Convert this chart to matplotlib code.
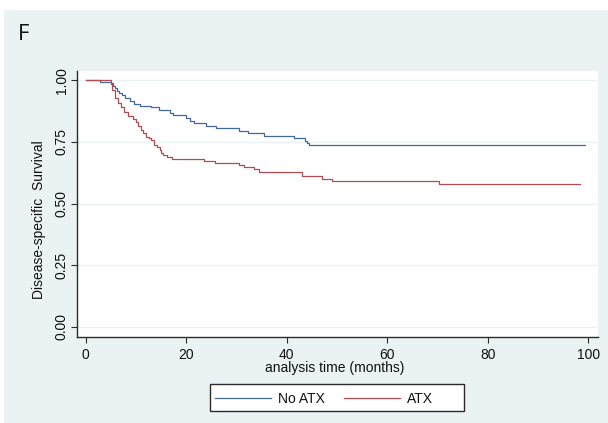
import matplotlib
matplotlib.use("Agg")
import matplotlib.pyplot as plt
from matplotlib.patches import Rectangle

# ---- data ----
no_atx_time = [0, 2.8, 5.0, 5.4, 5.8, 6.2, 6.7, 7.2, 7.8, 8.8, 9.7, 10.8, 13.0, 14.5,
               16.8, 17.4, 19.9, 20.8, 21.5, 24.0, 25.9, 30.6, 32.3, 35.4, 41.5,
               43.6, 44.0, 44.4, 99.3]
no_atx_surv = [1.0, 0.994, 0.988, 0.978, 0.968, 0.958, 0.950, 0.940, 0.927, 0.916,
               0.903, 0.897, 0.890, 0.879, 0.869, 0.858, 0.847, 0.836, 0.825, 0.816,
               0.805, 0.796, 0.785, 0.775, 0.767, 0.755, 0.746, 0.737, 0.737]

atx_time = [0, 5.0, 5.3, 5.8, 6.5, 7.0, 7.6, 8.4, 9.5, 10.0, 10.5, 11.0, 11.4, 12.0,
            12.6, 13.0, 13.6, 14.1, 14.7, 15.0, 15.3, 16.1, 17.1, 23.5, 25.8, 30.6,
            31.6, 33.4, 34.4, 43.1, 47.0, 49.0, 70.3, 98.4]
atx_surv = [1.0, 0.985, 0.960, 0.927, 0.910, 0.893, 0.873, 0.856, 0.845, 0.830,
            0.815, 0.800, 0.785, 0.771, 0.765, 0.758, 0.737, 0.730, 0.717, 0.704,
            0.697, 0.690, 0.681, 0.673, 0.663, 0.656, 0.648, 0.640, 0.628, 0.611,
            0.601, 0.591, 0.579, 0.579]

series_labels = ["No ATX", "ATX"]
x_ticks = [0, 20, 40, 60, 80, 100]
y_ticks = [0.00, 0.25, 0.50, 0.75, 1.00]
y_tick_labels = ["0.00", "0.25", "0.50", "0.75", "1.00"]
panel_letter = "F"
x_title = "analysis time (months)"
y_title = "Disease-specific  Survival"

# ---- style ----
W, H = 608, 423
BG = "#eaf2f3"
AX_COL = "#2b2b2b"
BLUE = "#41699a"
RED = "#b24c53"
plt.rcParams["font.family"] = ["Liberation Sans", "DejaVu Sans"]

fig = plt.figure(figsize=(W / 100, H / 100), dpi=100, facecolor="white")
fig.patches.append(Rectangle((4 / W, 0), 1, (H - 10) / H, transform=fig.transFigure,
                             facecolor=BG, edgecolor="none", zorder=-10))

l, r, t, b = 76.7, 597.7, 71, 337
ax = fig.add_axes([l / W, 1 - b / H, (r - l) / W, (b - t) / H])
ax.set_facecolor("white")

ax.step(no_atx_time, no_atx_surv, where="post", color=BLUE, lw=0.9, label=series_labels[0])
ax.step(atx_time, atx_surv, where="post", color=RED, lw=0.9, label=series_labels[1])

ax.set_xlim(-1.79, 101.9)
ax.set_ylim(-0.042, 1.038)
ax.set_xticks(x_ticks)
ax.set_yticks(y_ticks)
ax.set_yticklabels(y_tick_labels, rotation=90, va="center")
ax.yaxis.grid(True, color=BG, lw=1.0)
ax.set_axisbelow(True)

for s in ["top", "right"]:
    ax.spines[s].set_visible(False)
for s in ["left", "bottom"]:
    ax.spines[s].set_color(AX_COL)
    ax.spines[s].set_linewidth(1.0)
ax.tick_params(axis="both", direction="out", length=4.3, width=0.8, color=AX_COL,
               labelsize=10, labelcolor="#111111")
ax.tick_params(axis="x", pad=3.5)
ax.tick_params(axis="y", pad=1.5)

ax.set_xlabel(x_title, fontsize=10, color="#111111", va="center", ha="center")
ax.xaxis.set_label_coords((335 - l) / (r - l), (b - 368) / (b - t))
ax.set_ylabel(y_title, fontsize=10, color="#111111", va="center", ha="center")
ax.yaxis.set_label_coords((39.3 - l) / (r - l), (b - 219.5) / (b - t))

fig.text(18 / W, 1 - 35 / H, panel_letter, fontsize=16, family=["Open Sans", "DejaVu Sans"],
         va="center", ha="left", color="#111111")

# legend box (below the axes layer, above the background)
fig.patches.append(Rectangle((210 / W, 1 - 411 / H), (464.3 - 210) / W, (411 - 384.3) / H,
                             transform=fig.transFigure, facecolor="white",
                             edgecolor=AX_COL, lw=1.0, zorder=-5))
leg = ax.legend(loc="center left", bbox_to_anchor=(215 / W, 1 - 399 / H),
                bbox_transform=fig.transFigure, ncol=2, frameon=False, fontsize=10,
                handlelength=4.03, handletextpad=0.53, columnspacing=1.32,
                borderpad=0, borderaxespad=0)
for txt in leg.get_texts():
    txt.set_color("#111111")

fig.savefig("out.png", dpi=100, facecolor="white")
